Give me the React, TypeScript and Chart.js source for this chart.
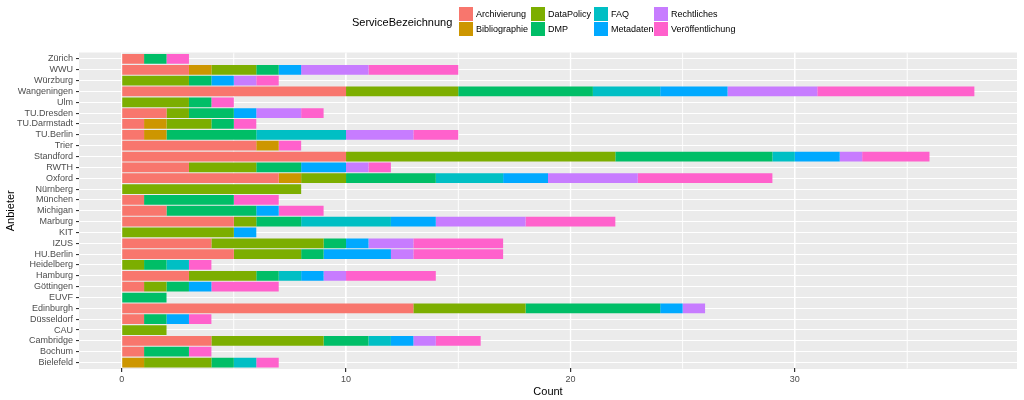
import React, { useEffect, useRef } from "react";
import { Chart, registerables } from "chart.js";

Chart.register(...registerables);

const categories = [
  "Zürich", "WWU", "Würzburg", "Wangeningen", "Ulm", "TU.Dresden", "TU.Darmstadt", "TU.Berlin",
  "Trier", "Standford", "RWTH", "Oxford", "Nürnberg", "München", "Michigan", "Marburg", "KIT",
  "IZUS", "HU.Berlin", "Heidelberg", "Hamburg", "Göttingen", "EUVF", "Edinburgh", "Düsseldorf",
  "CAU", "Cambridge", "Bochum", "Bielefeld",
];

const archivierung =     [1, 3, 0, 10, 0, 2, 1, 1, 6, 10, 3, 7, 0, 1, 2, 5, 0, 4, 5, 0, 3, 1, 0, 13, 1, 0, 4, 1, 0];
const bibliographie =    [0, 1, 0, 0, 0, 0, 1, 1, 1, 0, 0, 1, 0, 0, 0, 0, 0, 0, 0, 0, 0, 0, 0, 0, 0, 0, 0, 0, 1];
const dataPolicy =       [0, 2, 3, 5, 3, 1, 2, 0, 0, 12, 3, 2, 8, 0, 0, 1, 5, 5, 3, 1, 3, 1, 0, 5, 0, 2, 5, 0, 3];
const dmp =              [1, 1, 1, 6, 1, 2, 1, 4, 0, 7, 2, 4, 0, 4, 4, 2, 0, 1, 1, 1, 1, 1, 2, 6, 1, 0, 2, 2, 1];
const faq =              [0, 0, 0, 3, 0, 0, 0, 4, 0, 1, 0, 3, 0, 0, 0, 4, 0, 0, 0, 1, 1, 0, 0, 0, 0, 0, 1, 0, 1];
const metadaten =        [0, 1, 1, 3, 0, 1, 0, 0, 0, 2, 2, 2, 0, 0, 1, 2, 1, 1, 3, 0, 1, 1, 0, 1, 1, 0, 1, 0, 0];
const rechtliches =      [0, 3, 1, 4, 0, 2, 0, 3, 0, 1, 1, 4, 0, 0, 0, 4, 0, 2, 1, 0, 1, 0, 0, 1, 0, 0, 1, 0, 0];
const veroeffentlichung = [1, 4, 1, 7, 1, 1, 1, 2, 1, 3, 1, 6, 0, 2, 2, 4, 0, 4, 4, 1, 4, 3, 0, 0, 1, 0, 2, 1, 1];

const seriesNames = [
  "Archivierung", "Bibliographie", "DataPolicy", "DMP", "FAQ", "Metadaten", "Rechtliches", "Veröffentlichung",
];
const seriesValues = [archivierung, bibliographie, dataPolicy, dmp, faq, metadaten, rechtliches, veroeffentlichung];
const seriesColors = ["#F8766D", "#CD9600", "#7CAE00", "#00BE67", "#00BFC4", "#00A9FF", "#C77CFF", "#FF61CC"];

const xTicks = [0, 5, 10, 15, 20, 25, 30, 35];
const legendTitle = "ServiceBezeichnung";
const xTitle = "Count";
const yTitle = "Anbieter";

const FONT = "'Liberation Sans', Arial, sans-serif";

const panelBg = {
  id: "panelBg",
  beforeDraw(chart: any) {
    const { ctx, chartArea } = chart;
    ctx.save();
    ctx.fillStyle = "#EBEBEB";
    const top = chartArea.top - 1;
    const bottom = chartArea.bottom + 1;
    ctx.fillRect(chartArea.left, top, chartArea.right - chartArea.left, bottom - top);
    // extend vertical grid lines over the panel margins
    const xs = chart.scales.x;
    xTicks.forEach((v) => {
      const px = xs.getPixelForValue(v);
      ctx.strokeStyle = "#FFFFFF";
      ctx.lineWidth = v % 10 === 0 ? 1.2 : 0.6;
      ctx.beginPath();
      ctx.moveTo(px, top);
      ctx.lineTo(px, bottom);
      ctx.stroke();
    });
    ctx.restore();
  },
};

const ggLegend = {
  id: "ggLegend",
  afterDraw(chart: any) {
    const { ctx } = chart;
    ctx.save();
    ctx.textBaseline = "middle";
    ctx.textAlign = "left";
    ctx.fillStyle = "#000000";
    ctx.font = `11px ${FONT}`;
    ctx.fillText(legendTitle, 352, 23);
    const colX = [459, 531, 594, 654];
    const rowY = [7, 22];
    const keySize = 14;
    ctx.font = `9px ${FONT}`;
    seriesNames.forEach((name, i) => {
      const col = Math.floor(i / 2);
      const row = i % 2;
      const x = colX[col];
      const y = rowY[row];
      ctx.fillStyle = seriesColors[i];
      ctx.fillRect(x, y, keySize, keySize);
      ctx.fillStyle = "#000000";
      ctx.fillText(name, x + 17, y + keySize / 2 + 0.5);
    });
    ctx.restore();
  },
};

export default function App() {
  const canvasRef = useRef<HTMLCanvasElement | null>(null);

  useEffect(() => {
    if (!canvasRef.current) return;
    const chart = new Chart(canvasRef.current, {
      type: "bar",
      data: {
        labels: categories,
        datasets: seriesNames.map((name, i) => ({
          label: name,
          data: seriesValues[i],
          backgroundColor: seriesColors[i],
          borderWidth: 0,
          barPercentage: 0.9,
          categoryPercentage: 1,
        })),
      },
      options: {
        indexAxis: "y",
        responsive: false,
        animation: false,
        devicePixelRatio: 1,
        layout: { padding: { top: 53.5, right: 7, left: 0, bottom: 0 } },
        plugins: {
          legend: { display: false },
          tooltip: { enabled: false },
          title: { display: false },
        },
        scales: {
          x: {
            type: "linear",
            stacked: true,
            min: -1.9,
            max: 39.9,
            afterBuildTicks: (scale: any) => {
              scale.ticks = xTicks.map((v) => ({ value: v }));
            },
            afterFit: (scale: any) => {
              scale.height = 32;
            },
            border: { display: false },
            grid: {
              color: "#FFFFFF",
              lineWidth: (c: any) => (c.tick && c.tick.value % 10 === 0 ? 1.2 : 0.6),
              tickColor: (c: any) => (c.tick && c.tick.value % 10 === 0 ? "#333333" : "rgba(0,0,0,0)"),
              tickLength: 4,
              drawTicks: true,
            },
            ticks: {
              autoSkip: false,
              maxRotation: 0,
              padding: 2,
              color: "#4D4D4D",
              font: { family: FONT, size: 9 },
              callback: (v: any) => (Number(v) % 10 === 0 ? String(v) : ""),
            },
            title: {
              display: true,
              text: xTitle,
              color: "#000000",
              font: { family: FONT, size: 11 },
              padding: { top: 0, bottom: 1.5 },
            },
          },
          y: {
            type: "category",
            stacked: true,
            afterFit: (scale: any) => {
              scale.width = 79;
            },
            border: { display: false },
            grid: {
              offset: false,
              color: "#FFFFFF",
              lineWidth: 1.1,
              tickColor: "#333333",
              tickLength: 3,
              drawTicks: true,
            },
            ticks: {
              autoSkip: false,
              padding: 3,
              color: "#4D4D4D",
              font: { family: FONT, size: 9 },
            },
            title: {
              display: true,
              text: yTitle,
              color: "#000000",
              font: { family: FONT, size: 11 },
              padding: { top: 4, bottom: 0 },
            },
          },
        },
      },
      plugins: [panelBg, ggLegend],
    } as any);
    return () => chart.destroy();
  }, []);

  return (
    <div style={{ position: "fixed", left: 0, top: 0, width: 1024, height: 400, background: "#FFFFFF" }}>
      <canvas ref={canvasRef} width={1024} height={400} style={{ display: "block" }} />
    </div>
  );
}
